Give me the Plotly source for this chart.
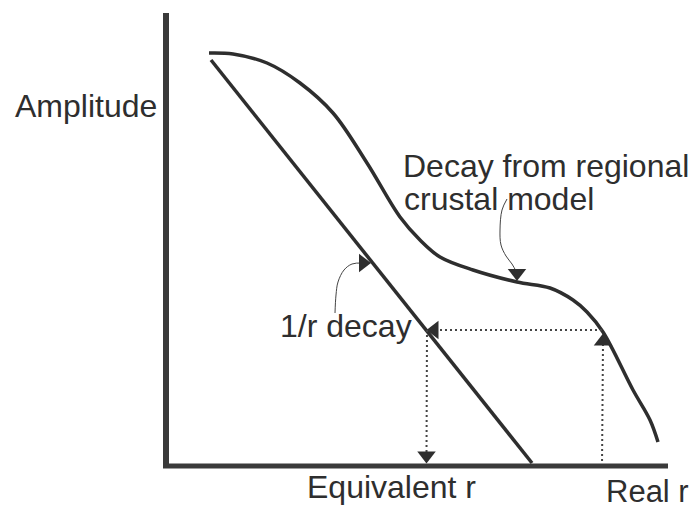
import plotly.graph_objects as go

# distance / amplitude in arbitrary units (axis origin at 0, 0)
r_line = [0.90, 7.32]
amp_line = [8.12, 0.06]

r_curve = [0.86, 1.34, 2.02, 2.68, 3.34, 4.02, 4.68, 5.08, 5.48, 6.14,
           7.02, 7.68, 8.14, 8.42, 8.74, 9.34, 9.68, 9.84]
amp_curve = [8.26, 8.24, 8.06, 7.66, 7.06, 6.06, 4.98, 4.52, 4.18, 3.92,
             3.68, 3.56, 3.32, 3.08, 2.68, 1.52, 0.92, 0.48]

# dotted construction arrows (start -> arrow head)
r_up = [8.72, 8.74]
amp_up = [0.00, 2.49]
r_across = [8.72, 5.37]
amp_across = [2.72, 2.72]
r_down = [5.22, 5.21]
amp_down = [2.72, 0.21]

# thin label pointers
r_ptr_line = [3.38, 3.40, 3.44, 3.56, 3.72, 3.94]
amp_ptr_line = [3.06, 3.42, 3.68, 3.92, 4.04, 4.06]
r_ptr_curve = [6.82, 6.72, 6.68, 6.70, 6.80, 6.92, 7.02]
amp_ptr_curve = [5.34, 5.12, 4.72, 4.42, 4.20, 4.04, 3.86]

ink = '#2e2e2e'
font = dict(family='Liberation Sans, Arial, sans-serif', size=32, color=ink)

fig = go.Figure()

fig.add_trace(go.Scatter(x=r_line, y=amp_line, mode='lines',
                         line=dict(color=ink, width=3.5)))
fig.add_trace(go.Scatter(x=r_curve, y=amp_curve, mode='lines',
                         line=dict(color=ink, width=3.5, shape='spline', smoothing=1.0)))

# dotted arrows with triangle heads
for xs, ys, sym in [(r_up, amp_up, 'triangle-up'),
                    (r_across, amp_across, 'triangle-left'),
                    (r_down, amp_down, 'triangle-down')]:
    fig.add_trace(go.Scatter(
        x=xs, y=ys, mode='lines+markers',
        line=dict(color='#444444', width=2, dash='2px,3px'),
        marker=dict(symbol=sym, size=[0, 16], color=ink, opacity=1,
                    line=dict(width=0))
    ))

# thin curved pointers
for xs, ys, sym in [(r_ptr_line, amp_ptr_line, 'triangle-right'),
                    (r_ptr_curve, amp_ptr_curve, 'triangle-down')]:
    fig.add_trace(go.Scatter(
        x=xs, y=ys, mode='lines+markers',
        line=dict(color='#444444', width=1, shape='spline'),
        marker=dict(symbol=sym, size=[0] * (len(xs) - 1) + [16], color=ink,
                    opacity=1, line=dict(width=0))
    ))

# axes drawn as thick strokes from the origin
fig.add_shape(type='line', x0=0, y0=-0.04, x1=0, y1=9.06,
              line=dict(color='#3a3a3a', width=6))
fig.add_shape(type='line', x0=-0.06, y0=0, x1=10.04, y1=0,
              line=dict(color='#3a3a3a', width=5))

labels = [
    ('Amplitude', -1.60, 7.20, 'center', 32),
    ('Decay from regional', 4.70, 6.01, 'left', 32),
    ('crustal model', 4.72, 5.34, 'left', 32),
    ('1/r decay', 2.24, 2.80, 'left', 32),
    ('Equivalent r', 2.78, -0.41, 'left', 32),
    ('Real r', 8.76, -0.51, 'left', 31),
]
for text, x, y, anchor, size in labels:
    fig.add_annotation(x=x, y=y, text=text, showarrow=False,
                       xanchor=anchor, yanchor='middle',
                       font=dict(font, size=size))

fig.update_layout(
    width=692,
    height=511,
    margin=dict(l=0, r=0, t=0, b=0),
    paper_bgcolor='white',
    plot_bgcolor='white',
    showlegend=False,
    xaxis=dict(range=[-3.32, 10.52], visible=False),
    yaxis=dict(range=[-0.90, 9.32], visible=False),
)

fig.write_html("out.html", config={'displayModeBar': False},
               post_script="document.body.style.margin='0';")
